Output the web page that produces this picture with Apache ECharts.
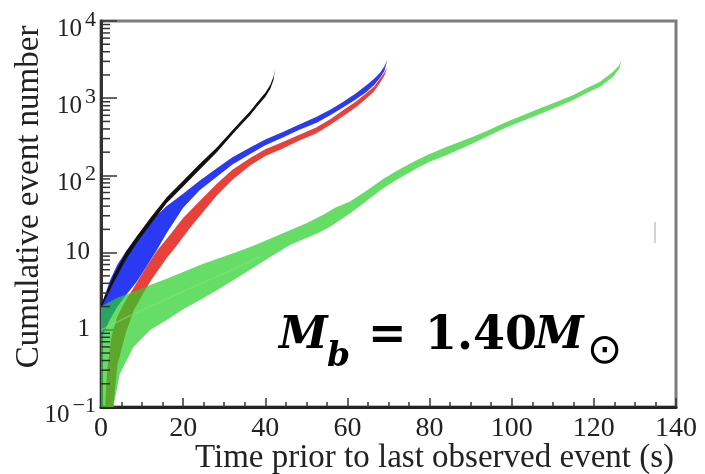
<!DOCTYPE html>
<html>
<head>
<meta charset="utf-8">
<title>Cumulative event number, Mb = 1.40</title>
<script src="https://cdn.jsdelivr.net/npm/echarts@6/dist/echarts.min.js"></script>
<style>
  html, body { margin: 0; padding: 0; background: #fff; }
  #main { width: 705px; height: 474px; }
</style>
</head>
<body>
<div id="main"></div>
<script>
// tick labels
var xTickLabels = ['0', '20', '40', '60', '80', '100', '120', '140'];
var yTickLabels = ['{b|10}{s|\u22121}', '{p|1}', '{p|10}', '{b|10}{s|2}', '{b|10}{s|3}', '{b|10}{s|4}'];
// log minor ticks: 2..9 in every decade
var minorSteps = [2, 3, 4, 5, 6, 7, 8, 9];
var decades = [0.1, 1, 10, 100, 1000];

// bands: [time (s), cumulative events]
var blackUpper = [[0, 2.1], [3, 5], [6, 10], [9, 17], [12, 28], [16, 52], [20, 85], [24, 140], [28.2, 230], [33, 440], [36.3, 680], [38, 880], [40, 1180], [41.2, 1480], [42, 1900], [42.4, 2400]];
var blackLower = [[0, 1.9], [3, 4], [6, 8], [9, 14], [12, 23], [16, 44], [20, 72], [24, 118], [28.2, 200], [33, 390], [36.3, 600], [38, 780], [40, 1040], [41.2, 1320], [42, 1720], [42.4, 2400]];

var blueUpper = [[0, 2.0], [2.2, 4.4], [4, 7], [6.3, 10.8], [9, 17], [11.9, 25], [16, 40], [20, 58], [24, 85], [28.2, 124], [32, 172], [36.3, 230], [40, 292], [44.4, 368], [48, 450], [52.5, 575], [56, 720], [59, 901], [62, 1150], [64.7, 1483], [66.5, 1780], [67.9, 2120], [69, 2600], [69.7, 3150]];
var blueLower = [[0, 0.75], [2, 1.3], [4, 2.0], [6.3, 2.9], [8.7, 4.2], [11, 6.5], [13.6, 10.8], [16, 18], [20, 38], [24, 64], [28.2, 96], [32, 138], [36.3, 190], [40, 245], [44.4, 311], [48, 385], [52.5, 482], [56, 610], [59, 762], [62, 960], [64.7, 1214], [66.5, 1480], [67.9, 1830], [69, 2250], [69.7, 3150]];

var redUpper = [[1, 0.1], [1.5, 0.3], [2.5, 0.8], [4, 1.5], [6, 2.4], [7.8, 3.4], [11.1, 6.6], [13.6, 10.5], [16.8, 17], [20, 28], [24.1, 47], [28.2, 78], [32, 118], [36.3, 168], [40, 218], [44.4, 273], [48, 330], [52.5, 420], [56, 540], [59, 703], [62, 900], [64.7, 1180], [66.5, 1420], [67.9, 1780], [69, 2150], [69.7, 2500]];
var redLower = [[3, 0.1], [4, 0.35], [6, 0.9], [8, 1.8], [10, 2.8], [12.2, 4.4], [16, 8.5], [18, 11.5], [21.7, 21], [24.1, 30], [28.2, 55], [32, 88], [36.3, 134], [40, 178], [44.4, 224], [48, 280], [52.5, 351], [56, 460], [59, 588], [62, 760], [64.7, 998], [66.5, 1230], [67.9, 1570], [69, 1950], [69.7, 2500]];

var greenUpper = [[0, 2.0], [4, 2.6], [7.9, 3.1], [12, 3.8], [16, 4.6], [20, 5.6], [24.1, 6.9], [28, 8.2], [32.2, 9.8], [36.3, 11.8], [38.7, 13.3], [42, 15.8], [46, 19.5], [50, 24], [54.1, 31], [57, 38], [60.6, 46], [64, 60], [68.7, 90], [72, 115], [76.9, 158], [80, 190], [84.2, 235], [90.6, 317], [94, 380], [98.8, 497], [102, 580], [106.9, 740], [111, 900], [115, 1100], [118, 1330], [121.5, 1637], [124.7, 2203], [126.2, 2700], [126.8, 3200]];
var greenLower = [[0, 0.1], [3, 0.1], [4.6, 0.27], [7.9, 0.6], [12, 1.0], [16, 1.34], [20, 1.85], [24.1, 2.43], [28, 3.2], [32.2, 4.4], [36.3, 6.0], [38.7, 7.2], [42, 9.3], [46, 12.5], [50, 15.5], [52.5, 17.5], [55.8, 21.7], [60.6, 32], [64, 44], [68.7, 68], [72, 88], [76.9, 124], [80, 150], [84.2, 184], [90.6, 260], [94, 320], [98.8, 420], [102, 490], [106.9, 624], [111, 770], [115, 948], [118, 1150], [121.5, 1409], [124.7, 1897], [126.2, 2450], [126.8, 3200]];
var greenMid = [[0, 1.0], [8, 1.6], [16, 2.5], [24, 3.9], [32, 6.0], [38.7, 8.9]];

var serif = "'Liberation Serif', 'DejaVu Serif', serif";
var boldSerif = "'DejaVu Serif', 'Liberation Serif', serif";

var yMinor = [];
decades.forEach(function (d) {
    minorSteps.forEach(function (m) { yMinor.push([0, d * m]); });
});

// one filled polygon per band, upper edge then lower edge backwards
function band(name, upper, lower, fill) {
    return {
        name: name,
        type: 'custom',
        clip: true,
        silent: true,
        data: upper,
        renderItem: function (params, api) {
            if (params.dataIndex !== 0) return;
            var ring = upper.concat(lower.slice().reverse());
            return {
                type: 'polygon',
                shape: { points: ring.map(function (p) { return api.coord(p); }) },
                style: { fill: fill }
            };
        }
    };
}

var myChart = echarts.init(document.getElementById('main'));
myChart.setOption({
    animation: false,
    grid: {
        left: 101, right: 29, top: 21, bottom: 67, outerBoundsMode: 'none',
        show: true, borderColor: '#7c7c7c', borderWidth: 3
    },
    xAxis: {
        type: 'value', min: 0, max: 140, interval: 20,
        name: 'Time prior to last observed event (s)',
        nameLocation: 'middle', nameGap: 35, nameMoveOverlap: false,
        nameTextStyle: { fontFamily: serif, fontSize: 33, color: '#222', padding: [0, 0, 0, 92] },
        axisLine: { show: true, lineStyle: { color: '#222', width: 3 } },
        axisTick: { show: true, inside: true, length: 9, lineStyle: { color: '#333', width: 1.5 } },
        minorTick: { show: true, splitNumber: 4, length: 5, lineStyle: { color: '#333', width: 1.5 } },
        splitLine: { show: false },
        axisLabel: {
            fontFamily: serif, fontSize: 28, color: '#222', margin: 8,
            formatter: function (v, i) { return xTickLabels[i]; }
        }
    },
    yAxis: {
        type: 'log', logBase: 10, min: 0.1, max: 10000,
        axisLine: { show: true, lineStyle: { color: '#333', width: 3 } },
        axisTick: { show: true, inside: true, length: 16, lineStyle: { color: '#333', width: 1.5 } },
        splitLine: { show: false },
        axisLabel: {
            margin: 5,
            formatter: function (v) { return yTickLabels[Math.round(Math.log10(v)) + 1]; },
            rich: {
                b: { fontFamily: serif, fontSize: 25, color: '#222', lineHeight: 30, padding: [16, 0, 0, 0] },
                p: { fontFamily: serif, fontSize: 25, color: '#222', lineHeight: 30, padding: [0, 6, 0, 0] },
                s: { fontFamily: serif, fontSize: 22, color: '#222', verticalAlign: 'middle', padding: [0, 0, 2, 3] }
            }
        }
    },
    series: [
        band('red', redUpper, redLower, '#e8413a'),
        band('blue', blueUpper, blueLower, '#2a3af2'),
        band('black', blackUpper, blackLower, '#111111'),
        band('green', greenUpper, greenLower, 'rgba(40,207,40,0.71)'),
        {
            name: 'green median', type: 'line', data: greenMid, smooth: true, showSymbol: false, silent: true,
            lineStyle: { color: 'rgba(140,230,120,0.5)', width: 1.5 }
        },
        {
            name: 'minor ticks', type: 'custom', silent: true, data: yMinor,
            renderItem: function (params, api) {
                var p = api.coord([0, api.value(1)]);
                return { type: 'line', shape: { x1: p[0], y1: p[1], x2: p[0] + 9, y2: p[1] }, style: { stroke: '#333', lineWidth: 1.5 } };
            }
        }
    ],
    graphic: [
        { type: 'text', x: 29, y: 197, rotation: Math.PI / 2, style: { text: 'Cumulative event number', fontFamily: serif, fontSize: 33, fill: '#222', align: 'center', verticalAlign: 'middle' } },
        { type: 'text', x: 279, y: 337, style: { text: 'M', fontFamily: boldSerif, fontWeight: 'bold', fontStyle: 'italic', fontSize: 44, fill: '#000', verticalAlign: 'middle' } },
        { type: 'text', x: 327, y: 357, style: { text: 'b', fontFamily: boldSerif, fontWeight: 'bold', fontStyle: 'italic', fontSize: 33, fill: '#000', verticalAlign: 'middle' } },
        { type: 'text', x: 368, y: 337, style: { text: '=', fontFamily: boldSerif, fontWeight: 'bold', fontSize: 46, fill: '#000', verticalAlign: 'middle' } },
        { type: 'text', x: 425, y: 337, style: { text: '1.40', fontFamily: boldSerif, fontWeight: 'bold', fontSize: 46, fill: '#000', verticalAlign: 'middle' } },
        { type: 'text', x: 535, y: 337, style: { text: 'M', fontFamily: boldSerif, fontWeight: 'bold', fontStyle: 'italic', fontSize: 44, fill: '#000', verticalAlign: 'middle' } },
        { type: 'text', x: 587, y: 352, style: { text: '\u2299', fontFamily: "'DejaVu Sans', sans-serif", fontSize: 42, fill: '#000', verticalAlign: 'middle' } },
        { type: 'line', shape: { x1: 655, y1: 222, x2: 655, y2: 243 }, style: { stroke: '#aaa', lineWidth: 1 } }
    ]
});
</script>
</body>
</html>
